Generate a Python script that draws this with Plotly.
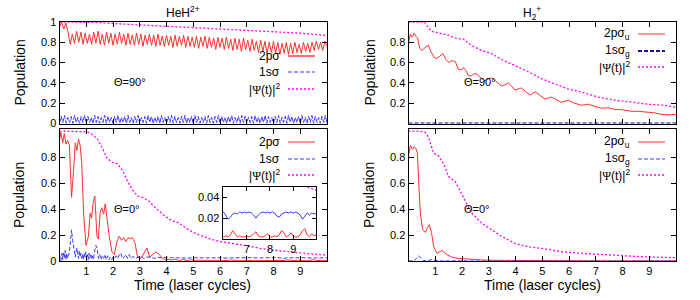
import numpy as np
import plotly.graph_objects as go

# ---------------- data ----------------
# HeH2+, Theta = 90 deg
t_heh90_2p = np.linspace(0, 10, 126)
heh90_2p = [
    0.95, 1.00, 0.93, 0.99, 0.90, 0.78, 0.88, 0.79, 0.91, 0.80,
    0.90, 0.78, 0.89, 0.79, 0.88, 0.78, 0.90, 0.79, 0.91, 0.78,
    0.88, 0.77, 0.90, 0.79, 0.89, 0.77, 0.88, 0.78, 0.90, 0.79,
    0.88, 0.77, 0.89, 0.78, 0.87, 0.77, 0.89, 0.78, 0.88, 0.76,
    0.87, 0.78, 0.88, 0.77, 0.87, 0.76, 0.88, 0.77, 0.86, 0.76,
    0.87, 0.77, 0.86, 0.75, 0.87, 0.76, 0.86, 0.77, 0.87, 0.75,
    0.86, 0.76, 0.85, 0.75, 0.86, 0.74, 0.85, 0.76, 0.86, 0.74,
    0.85, 0.75, 0.84, 0.73, 0.85, 0.75, 0.84, 0.73, 0.85, 0.74,
    0.83, 0.72, 0.84, 0.73, 0.83, 0.71, 0.84, 0.73, 0.82, 0.71,
    0.83, 0.72, 0.81, 0.70, 0.82, 0.71, 0.81, 0.69, 0.80, 0.70,
    0.81, 0.69, 0.80, 0.68, 0.79, 0.69, 0.80, 0.68, 0.79, 0.69,
    0.80, 0.70, 0.78, 0.69, 0.80, 0.71, 0.79, 0.70, 0.80, 0.72,
    0.81, 0.73, 0.80, 0.72, 0.81, 0.76]
t_heh90_1s = np.linspace(0, 10, 161)
heh90_1s = [
    0.00, 0.07, 0.01, 0.08, 0.00, 0.06, 0.01, 0.07, 0.00, 0.08,
    0.01, 0.06, 0.00, 0.07, 0.01, 0.08, 0.00, 0.07, 0.01, 0.06,
    0.00, 0.08, 0.01, 0.07, 0.00, 0.06, 0.01, 0.08, 0.00, 0.07,
    0.01, 0.06, 0.00, 0.07, 0.01, 0.08, 0.00, 0.06, 0.01, 0.07,
    0.00, 0.08, 0.01, 0.06, 0.00, 0.07, 0.01, 0.08, 0.00, 0.06,
    0.01, 0.07, 0.00, 0.08, 0.01, 0.07, 0.00, 0.06, 0.01, 0.07,
    0.00, 0.08, 0.01, 0.06, 0.00, 0.07, 0.01, 0.08, 0.00, 0.07,
    0.01, 0.06, 0.00, 0.07, 0.01, 0.08, 0.00, 0.06, 0.01, 0.07,
    0.00, 0.08, 0.01, 0.07, 0.00, 0.06, 0.01, 0.07, 0.00, 0.08,
    0.01, 0.06, 0.00, 0.07, 0.01, 0.08, 0.00, 0.07, 0.01, 0.06,
    0.00, 0.07, 0.01, 0.08, 0.00, 0.06, 0.01, 0.07, 0.00, 0.08,
    0.01, 0.07, 0.00, 0.06, 0.01, 0.07, 0.00, 0.08, 0.01, 0.06,
    0.00, 0.07, 0.01, 0.08, 0.00, 0.07, 0.01, 0.06, 0.00, 0.07,
    0.01, 0.08, 0.00, 0.06, 0.01, 0.07, 0.00, 0.08, 0.01, 0.07,
    0.00, 0.06, 0.01, 0.07, 0.00, 0.08, 0.01, 0.06, 0.00, 0.07,
    0.01, 0.08, 0.00, 0.07, 0.01, 0.06, 0.00, 0.07, 0.01, 0.08,
    0.00]
t_heh90_psi = [0, 1.0, 1.5, 2, 3, 4, 5, 6, 7, 8, 9, 10]
heh90_psi = [1.0, 1.0, 0.995, 0.985, 0.972, 0.957, 0.945, 0.93, 0.918, 0.905, 0.89, 0.867]

# HeH2+, Theta = 0 deg
t_tail = np.round(np.arange(4.1, 10.001, 0.1), 2)
t_heh0_2p = [0, 0.05, 0.12, 0.18, 0.24, 0.30, 0.37, 0.40, 0.45, 0.53,
             0.59, 0.65, 0.71, 0.77, 0.83, 0.90, 0.99, 1.08, 1.15, 1.20,
             1.26, 1.32, 1.40, 1.45, 1.52, 1.58, 1.65, 1.71, 1.77, 1.86,
             1.96, 2.05, 2.15, 2.23, 2.32, 2.39, 2.48, 2.57, 2.64, 2.72,
             2.82, 2.92, 3.05, 3.17, 3.27, 3.37, 3.48, 3.60, 3.73, 3.85,
             3.97] + list(t_tail)
heh0_2p = [0.93, 0.99, 0.91, 0.98, 0.90, 0.93, 0.89, 0.76, 0.49, 0.71,
           0.91, 0.85, 0.94, 0.89, 0.76, 0.37, 0.12, 0.19, 0.37, 0.33,
           0.45, 0.50, 0.19, 0.17, 0.37, 0.41, 0.36, 0.44, 0.33, 0.19,
           0.07, 0.05, 0.15, 0.19, 0.16, 0.18, 0.15, 0.18, 0.17, 0.18,
           0.14, 0.03, 0.02, 0.06, 0.10, 0.03, 0.05, 0.07, 0.05, 0.02,
           0.01,
           0.012, 0.006, 0.015, 0.008, 0.004, 0.012, 0.006, 0.003, 0.010, 0.005,
           0.003, 0.008, 0.004, 0.002, 0.007, 0.003, 0.002, 0.006, 0.003, 0.002,
           0.003, 0.002, 0.004, 0.008, 0.005, 0.002, 0.003, 0.002, 0.002, 0.003,
           0.002, 0.003, 0.005, 0.007, 0.003, 0.002, 0.002, 0.003, 0.005, 0.002,
           0.002, 0.003, 0.002, 0.004, 0.008, 0.006, 0.002, 0.003, 0.006, 0.003,
           0.002, 0.002, 0.004, 0.008, 0.010, 0.004, 0.002, 0.005, 0.003, 0.004]
t_heh0_1s = [0, 0.05, 0.09, 0.12, 0.15, 0.18, 0.21, 0.24, 0.27, 0.30,
             0.34, 0.37, 0.41, 0.45, 0.49, 0.53, 0.56, 0.59, 0.62, 0.65,
             0.68, 0.71, 0.74, 0.77, 0.80, 0.83, 0.86, 0.89, 0.92, 0.95,
             0.98, 1.01, 1.04, 1.07, 1.10, 1.13, 1.17, 1.20, 1.23, 1.27,
             1.30, 1.33, 1.36, 1.39, 1.42, 1.46, 1.50, 1.55, 1.60, 1.65,
             1.70, 1.75, 1.80, 1.85, 1.90, 1.95, 2.00, 2.06, 2.12, 2.18,
             2.24, 2.29, 2.35, 2.42, 2.48, 2.54, 2.60, 2.67, 2.75, 2.85,
             2.95, 3.04, 3.15, 3.25, 3.41, 3.55, 3.66, 3.80, 3.90, 4.00] + list(t_tail)
heh0_1s = [0.05, 0.00, 0.06, 0.01, 0.07, 0.02, 0.08, 0.01, 0.06, 0.02,
           0.05, 0.07, 0.15, 0.24, 0.16, 0.09, 0.04, 0.03, 0.07, 0.10,
           0.05, 0.02, 0.08, 0.03, 0.06, 0.02, 0.05, 0.01, 0.06, 0.03,
           0.07, 0.02, 0.05, 0.01, 0.06, 0.02, 0.055, 0.02, 0.04, 0.01,
           0.06, 0.09, 0.12, 0.11, 0.08, 0.02, 0.05, 0.01, 0.04, 0.02,
           0.05, 0.01, 0.04, 0.01, 0.03, 0.01, 0.03, 0.02, 0.04, 0.02,
           0.05, 0.06, 0.02, 0.03, 0.05, 0.02, 0.05, 0.02, 0.035, 0.02,
           0.03, 0.04, 0.02, 0.03, 0.03, 0.02, 0.03, 0.025, 0.028, 0.025,
           0.024, 0.026, 0.022, 0.025, 0.023, 0.026, 0.024, 0.022, 0.025, 0.024,
           0.026, 0.023, 0.025, 0.021, 0.024, 0.025, 0.023, 0.025, 0.024, 0.026,
           0.023, 0.019, 0.021, 0.024, 0.025, 0.024, 0.026, 0.025, 0.026, 0.025,
           0.026, 0.025, 0.023, 0.020, 0.023, 0.025, 0.026, 0.025, 0.026, 0.025,
           0.026, 0.025, 0.022, 0.021, 0.024, 0.025, 0.026, 0.025, 0.026, 0.025,
           0.026, 0.025, 0.023, 0.019, 0.022, 0.025, 0.023, 0.025, 0.024, 0.025]
t_heh0_psi = [0, 0.5, 1.0, 1.18, 1.42, 1.6, 1.78, 1.97, 2.16, 2.35,
              2.53, 2.72, 2.92, 3.1, 3.35, 3.53, 3.75, 3.97, 4.2, 4.45,
              4.75, 5.0, 5.3, 5.7, 6.0, 6.5, 7.0, 7.5, 8.0, 8.5,
              9.0, 9.4, 9.7, 10.0]
heh0_psi = [1.0, 1.0, 0.995, 0.98, 0.94, 0.87, 0.79, 0.76, 0.75, 0.70,
            0.62, 0.55, 0.50, 0.49, 0.46, 0.42, 0.38, 0.34, 0.31, 0.295,
            0.25, 0.22, 0.195, 0.165, 0.15, 0.135, 0.118, 0.097, 0.082, 0.072,
            0.062, 0.052, 0.049, 0.047]

# H2+, Theta = 90 deg
t_h290_2p = [0, 0.07, 0.14, 0.21, 0.28, 0.34, 0.42, 0.52, 0.62, 0.75,
             0.85, 1.00, 1.12, 1.28, 1.40, 1.52, 1.62, 1.75, 1.87, 1.97,
             2.06, 2.15, 2.24, 2.35, 2.45, 2.55, 2.65, 2.86, 2.98, 3.11,
             3.25, 3.48, 3.60, 3.73, 3.85, 3.98, 4.10, 4.23, 4.40, 4.54,
             4.65, 4.75, 4.90, 5.10, 5.22, 5.35, 5.55, 5.72, 5.85, 5.97,
             6.20, 6.47, 6.60, 6.72, 6.95, 7.21, 7.45, 7.71, 8.00, 8.33,
             8.60, 8.95, 9.20, 9.45, 9.70, 10.0]
h290_2p = [0.80, 0.88, 0.85, 0.89, 0.86, 0.84, 0.74, 0.72, 0.75, 0.77,
           0.70, 0.64, 0.65, 0.69, 0.63, 0.60, 0.62, 0.61, 0.53, 0.53,
           0.55, 0.52, 0.47, 0.47, 0.49, 0.49, 0.46, 0.42, 0.44, 0.45,
           0.42, 0.37, 0.38, 0.40, 0.37, 0.33, 0.34, 0.35, 0.31, 0.28,
           0.30, 0.31, 0.28, 0.24, 0.25, 0.26, 0.23, 0.21, 0.22, 0.23,
           0.20, 0.18, 0.185, 0.19, 0.17, 0.15, 0.155, 0.14, 0.135, 0.12,
           0.12, 0.11, 0.105, 0.09, 0.085, 0.09]
t_h290_1s = [0, 2, 4, 6, 8, 10]
h290_1s = [0.001, 0.001, 0.001, 0.001, 0.001, 0.001]
t_h290_psi = [0, 0.6, 0.7, 0.85, 1.0, 1.3, 1.5, 1.75, 2.06, 2.35,
              2.73, 3.1, 3.48, 3.98, 4.48, 4.98, 5.48, 5.97, 6.47, 7.09,
              7.71, 8.33, 8.95, 9.57, 10.0]
h290_psi = [1.0, 1.0, 0.96, 0.91, 0.90, 0.88, 0.87, 0.84, 0.83, 0.77,
            0.72, 0.69, 0.63, 0.57, 0.51, 0.44, 0.39, 0.34, 0.31, 0.26,
            0.23, 0.21, 0.19, 0.18, 0.16]

# H2+, Theta = 0 deg
t_h20_2p = [0, 0.07, 0.15, 0.21, 0.27, 0.33, 0.38, 0.44, 0.53, 0.63,
            0.69, 0.78, 0.86, 0.94, 1.06, 1.25, 1.43, 1.62, 1.87, 2.24,
            2.74, 3.2, 4.0, 5.0, 6.0, 7.0, 8.0, 9.0, 10.0]
h20_2p = [0.81, 0.89, 0.86, 0.88, 0.87, 0.83, 0.62, 0.37, 0.24, 0.22,
          0.25, 0.28, 0.22, 0.11, 0.06, 0.08, 0.05, 0.03, 0.02, 0.013,
          0.008, 0.005, 0.003, 0.002, 0.002, 0.001, 0.001, 0.001, 0.001]
t_h20_1s = [0, 0.2, 0.3, 0.38, 0.45, 0.55, 0.7, 0.85, 0.9, 1.0,
            1.2, 2, 4, 6, 8, 10]
h20_1s = [0.0, 0.002, 0.02, 0.04, 0.025, 0.003, 0.001, 0.012, 0.013, 0.004,
          0.001, 0.0005, 0.0, 0.0, 0.0, 0.0]
t_h20_psi = [0, 0.4, 0.63, 0.75, 0.94, 1.12, 1.31, 1.5, 1.75, 2.0,
             2.18, 2.36, 2.74, 3.11, 3.48, 3.98, 4.48, 4.98, 5.72, 6.47,
             7.21, 7.96, 8.7, 9.89, 10.0]
h20_psi = [1.0, 1.0, 0.99, 0.95, 0.83, 0.81, 0.75, 0.65, 0.61, 0.51,
           0.45, 0.37, 0.29, 0.24, 0.19, 0.135, 0.11, 0.097, 0.072, 0.059,
           0.051, 0.041, 0.033, 0.026, 0.025]

# tick labels
x_ticks = [1, 2, 3, 4, 5, 6, 7, 8, 9]
y_ticks_tl = [0, 0.2, 0.4, 0.6, 0.8, 1.0]
y_text_tl = ["0", "0.2", "0.4", "0.6", "0.8", "1"]
y_ticks_bl = [0, 0.2, 0.4, 0.6, 0.8]
y_text_bl = ["0", "0.2", "0.4", "0.6", "0.8"]
y_ticks_r = [0.2, 0.4, 0.6, 0.8]
y_text_r = ["0.2", "0.4", "0.6", "0.8"]
inset_x_ticks = [7, 8, 9]
inset_y_ticks = [0.02, 0.04]
inset_y_text = ["0.02", "0.04"]

# ---------------- styling ----------------
W, H = 700, 300
def px(x):
    return x / W
def py(y):
    return 1 - y / H

FONT = "Liberation Sans, Arial, Helvetica, sans-serif"
RED = "#ff3030"
BLUE = "#3a3aff"
MAG = "#ff00ff"
DBLUE = "#12129a"
D_BLUE = "4px,2px"
D_MAG = "2px,2px"
W_MAG = 1.3

fig = go.Figure()

def add(x, y, ax, color, dash, width):
    fig.add_trace(go.Scatter(
        x=list(x), y=list(y), xaxis="x" + ax, yaxis="y" + ax, mode="lines",
        line=dict(color=color, dash=dash, width=width),
        showlegend=False, hoverinfo="skip"))

# panel 1: HeH top
add(t_heh90_2p, heh90_2p, "", RED, "solid", 1)
add(t_heh90_1s, heh90_1s, "", BLUE, "5px,1.5px", 1)
add(t_heh90_psi, heh90_psi, "", MAG, D_MAG, W_MAG)
# panel 2: HeH bottom
add(t_heh0_2p, heh0_2p, "2", RED, "solid", 1)
add(t_heh0_1s, heh0_1s, "2", BLUE, D_BLUE, 1)
add(t_heh0_psi, heh0_psi, "2", MAG, D_MAG, W_MAG)
# panel 3: H2 top
add(t_h290_2p, h290_2p, "3", RED, "solid", 1)
add(t_h290_1s, h290_1s, "3", DBLUE, "4px,2px", 1.8)
add(t_h290_psi, h290_psi, "3", MAG, D_MAG, W_MAG)
# panel 4: H2 bottom
add(t_h20_2p, h20_2p, "4", RED, "solid", 1)
add(t_h20_1s, h20_1s, "4", BLUE, D_BLUE, 1)
add(t_h20_psi, h20_psi, "4", MAG, D_MAG, W_MAG)
# inset (panel 5)
add(t_heh0_2p, heh0_2p, "5", RED, "solid", 1)
add(t_heh0_1s, heh0_1s, "5", BLUE, "solid", 1)
add(t_heh0_psi, heh0_psi, "5", MAG, D_MAG, W_MAG)

common = dict(showline=True, linecolor="black", linewidth=1, mirror="ticks",
              ticks="inside", ticklen=5, tickcolor="black", tickwidth=1,
              showgrid=False, zeroline=False, fixedrange=True, automargin=False,
              tickfont=dict(family=FONT, size=11, color="black"))

LX = [px(59.5), px(327)]
RX = [px(408.5), px(676)]
TY = [py(123.5), py(22)]
BY = [py(261), py(128.5)]
IX = [px(222.5), px(316)]
IY = [py(239), py(186.5)]

def xax(domain, anchor, labels):
    return dict(common, domain=domain, anchor=anchor, range=[0, 10],
                tickvals=x_ticks, ticktext=[str(v) for v in x_ticks],
                showticklabels=labels)

def yax(domain, anchor, rng, vals, text):
    return dict(common, domain=domain, anchor=anchor, range=rng,
                tickvals=vals, ticktext=text)

layout = dict(
    template="none",
    width=W, height=H, margin=dict(l=0, r=0, t=0, b=0, autoexpand=False),
    paper_bgcolor="white", plot_bgcolor="white", showlegend=False,
    xaxis=xax(LX, "y", False),
    yaxis=yax(TY, "x", [0, 1], y_ticks_tl, y_text_tl),
    xaxis2=xax(LX, "y2", True),
    yaxis2=yax(BY, "x2", [0, 1.02], y_ticks_bl, y_text_bl),
    xaxis3=xax(RX, "y3", False),
    yaxis3=yax(TY, "x3", [0, 1], y_ticks_r, y_text_r),
    xaxis4=xax(RX, "y4", True),
    yaxis4=yax(BY, "x4", [0, 1.02], y_ticks_r, y_text_r),
    xaxis5=dict(common, domain=IX, anchor="y5", range=[5.96, 9.98],
                tickvals=inset_x_ticks, ticktext=[str(v) for v in inset_x_ticks],
                ticklen=4),
    yaxis5=dict(common, domain=IY, anchor="x5", range=[0, 0.0505],
                tickvals=inset_y_ticks, ticktext=inset_y_text, ticklen=4),
)
fig.update_layout(**layout)

ann = []
shapes = []
def text(x, y, s, size=11, xanchor="center", angle=0):
    ann.append(dict(x=px(x), y=py(y), xref="paper", yref="paper", text=s,
                    showarrow=False, xanchor=xanchor, yanchor="middle",
                    textangle=angle, font=dict(family=FONT, size=size, color="black")))

PSI = '|<span style="font-family:Liberation Serif">Ψ</span>(t)|<sup>2</sup>'

# titles
text(183, 12, "HeH<sup>2+</sup>", 12)
text(532, 13, "H<sub>2</sub><sup>+</sup>", 12)
# axis titles
for yc in (72.5, 195):
    text(19, yc, "Population", 14, angle=-90)
    text(369, yc, "Population", 14, angle=-90)
text(192, 285, "Time (laser cycles)", 14)
text(542, 285, "Time (laser cycles)", 14)
# angle labels
text(111.5, 82, "Θ=90°", 11, "left")
text(111.5, 209, "Θ=0°", 11, "left")
text(461.5, 82, "Θ=90°", 11, "left")
text(461.5, 209, "Θ=0°", 11, "left")

def key(xt, xk0, xk1, y, label, color, dash, width):
    text(xt, y, label, 12, "right")
    shapes.append(dict(type="line", xref="paper", yref="paper",
                       x0=px(xk0), x1=px(xk1), y0=py(y), y1=py(y),
                       line=dict(color=color, dash=dash, width=width), layer="above"))

# legends
key(282, 288, 315, 56, "2pσ", "#ff7070", "solid", 2)
key(282, 288, 315, 72, "1sσ", BLUE, D_BLUE, 1)
key(282, 288, 315, 89, PSI, MAG, D_MAG, W_MAG)

key(282, 288, 315, 142, "2pσ", RED, "solid", 1)
key(282, 288, 315, 159, "1sσ", BLUE, D_BLUE, 1)
key(282, 288, 315, 175, PSI, MAG, D_MAG, W_MAG)

key(632, 638, 665, 34, "2pσ<sub>u</sub>", RED, "solid", 1)
key(632, 638, 665, 51, "1sσ<sub>g</sub>", DBLUE, "4px,2px", 1.8)
key(632, 638, 665, 67, PSI, MAG, D_MAG, W_MAG)

key(632, 638, 665, 142, "2pσ<sub>u</sub>", RED, "solid", 1)
key(632, 638, 665, 159, "1sσ<sub>g</sub>", BLUE, D_BLUE, 1)
key(632, 638, 665, 175, PSI, MAG, D_MAG, W_MAG)

fig.update_layout(annotations=ann, shapes=shapes)
fig.write_html(
    "out.html",
    config={"displayModeBar": False, "staticPlot": True},
    post_script="document.body.style.margin='0';document.body.style.padding='0';"
                "document.body.style.overflow='hidden';",
)
